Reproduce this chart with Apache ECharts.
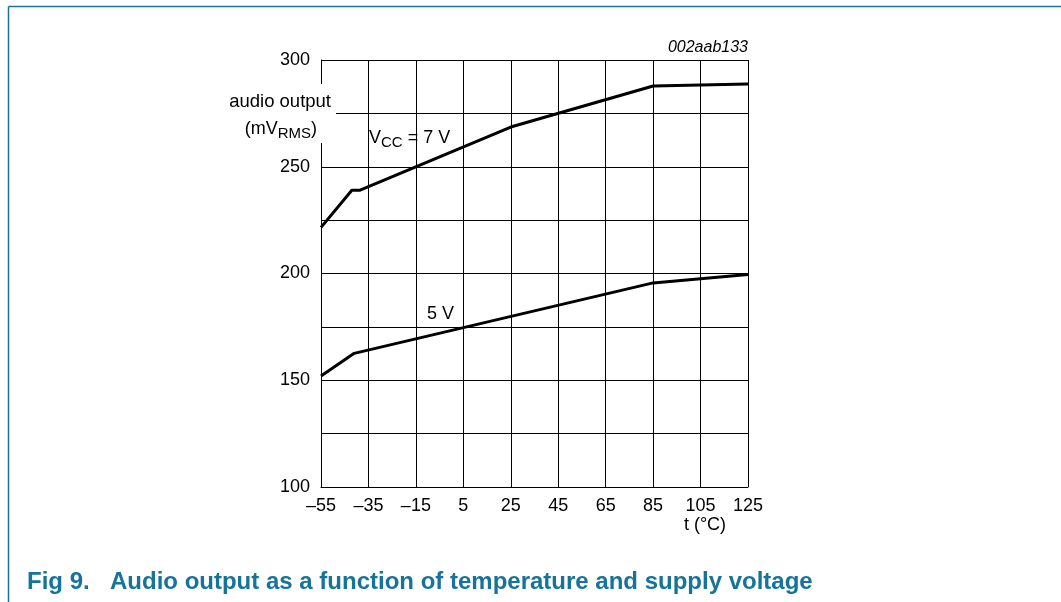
<!DOCTYPE html>
<html><head><meta charset="utf-8">
<script src="https://cdn.jsdelivr.net/npm/echarts@6/dist/echarts.min.js"></script>
<style>html,body{margin:0;padding:0;background:#fff}#c{width:1061px;height:602px}</style>
</head><body><div id="c"></div>
<script>
// Data
const temps7 = [-55, -42, -38.5, 25, 85, 125];
const vals7  = [221.6, 239, 239, 268.6, 287.8, 288.8];
const temps5 = [-55, -41, 85, 125];
const vals5  = [152, 162.6, 195.6, 199.5];
const xTicks = [-55, 125, 20];   // min, max, interval
const yTicks = [100, 300, 25];   // min, max, interval (labels every 50)
const captionNum = 'Fig 9.';
const captionText = 'Audio output as a function of temperature and supply voltage';

const FONT = '"Liberation Sans", Arial, sans-serif';
const chart = echarts.init(document.getElementById('c'), null, {renderer: 'canvas'});
const pair = (xs, ys) => xs.map((x, i) => [x, ys[i]]);
const teal = '#16739a';

chart.setOption({
  animation: false,
  grid: {left: 321, top: 60, width: 427, height: 427, containLabel: false},
  xAxis: {
    type: 'value', min: xTicks[0], max: xTicks[1], interval: xTicks[2],
    axisLine: {show: true, onZero: false, lineStyle: {color: '#000', width: 1}},
    axisTick: {show: false},
    splitLine: {show: true, lineStyle: {color: '#000', width: 1}},
    axisLabel: {color: '#000', fontSize: 18, fontFamily: FONT, margin: 10,
      formatter: v => (v < 0 ? '\u2013' + Math.abs(v) : String(v))}
  },
  yAxis: {
    type: 'value', min: yTicks[0], max: yTicks[1], interval: yTicks[2],
    axisLine: {show: true, onZero: false, lineStyle: {color: '#000', width: 1}},
    axisTick: {show: false},
    splitLine: {show: true, lineStyle: {color: '#000', width: 1}},
    axisLabel: {color: '#000', fontSize: 18, fontFamily: FONT, margin: 11,
      formatter: v => (v % 50 === 0 ? String(v) : '')}
  },
  series: [
    {type: 'line', data: pair(temps7, vals7), symbol: 'none',
     lineStyle: {color: '#000', width: 3}},
    {type: 'line', data: pair(temps5, vals5), symbol: 'none',
     lineStyle: {color: '#000', width: 3}}
  ],
  graphic: [
    {type: 'line', shape: {x1: 8.5, y1: 6.5, x2: 1061, y2: 6.5}, style: {stroke: teal, lineWidth: 1.5}, silent: true},
    {type: 'line', shape: {x1: 8.5, y1: 6.5, x2: 8.5, y2: 602}, style: {stroke: teal, lineWidth: 1.5}, silent: true},
    {type: 'rect', shape: {x: 224, y: 84, width: 112, height: 59}, style: {fill: '#fff'}, z: 50, silent: true},
    {type: 'text', x: 331, y: 102, z: 60, style: {text: 'audio output', font: '18.5px ' + FONT, fill: '#000', align: 'right', verticalAlign: 'middle'}},
    {type: 'text', x: 317, y: 129, z: 60, style: {
      text: '{n|(mV}{s|RMS}{n|)}', align: 'right', verticalAlign: 'middle',
      rich: {n: {fontSize: 18, fontFamily: FONT, fill: '#000', lineHeight: 24, verticalAlign: 'middle'},
             s: {fontSize: 15, fontFamily: FONT, fill: '#000', lineHeight: 24, verticalAlign: 'bottom'}}}},
    {type: 'text', x: 369, y: 138, z: 60, style: {
      text: '{n|V}{s|CC}{n| = 7 V}', align: 'left', verticalAlign: 'middle',
      rich: {n: {fontSize: 18, fontFamily: FONT, fill: '#000', lineHeight: 24, verticalAlign: 'middle'},
             s: {fontSize: 15, fontFamily: FONT, fill: '#000', lineHeight: 24, verticalAlign: 'bottom'}}}},
    {type: 'text', x: 427, y: 314, z: 60, style: {text: '5 V', font: '18px ' + FONT, fill: '#000', align: 'left', verticalAlign: 'middle'}},
    {type: 'text', x: 748, y: 48, z: 60, style: {text: '002aab133', font: 'italic 16px ' + FONT, fill: '#000', align: 'right', verticalAlign: 'middle'}},
    {type: 'text', x: 705, y: 525, z: 60, style: {text: 't (\u00B0C)', font: '18px ' + FONT, fill: '#000', align: 'center', verticalAlign: 'middle'}},
    {type: 'text', x: 27, y: 582, z: 60, style: {text: captionNum, font: 'bold 24px ' + FONT, fill: teal, align: 'left', verticalAlign: 'middle'}},
    {type: 'text', x: 110, y: 582, z: 60, style: {text: captionText, font: 'bold 24px ' + FONT, fill: teal, align: 'left', verticalAlign: 'middle'}}
  ]
});
</script></body></html>
